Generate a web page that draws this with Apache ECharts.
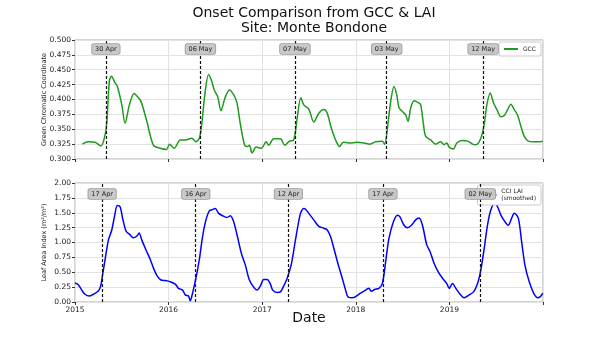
<!DOCTYPE html>
<html><head><meta charset="utf-8">
<script src="https://cdn.jsdelivr.net/npm/echarts@6/dist/echarts.min.js"></script>
<style>html,body{margin:0;padding:0;background:#fff}#c{width:602px;height:339px}</style>
</head><body><div id="c"></div>
<script>
// GCC series: [decimal year, GCC]
const gccData = [
[2015.078,0.325],[2015.142,0.329],[2015.214,0.328],[2015.278,0.322],[2015.318,0.338],[2015.339,0.360],
[2015.367,0.431],[2015.389,0.439],[2015.428,0.428],[2015.453,0.422],[2015.500,0.391],[2015.535,0.360],
[2015.581,0.391],[2015.632,0.410],[2015.671,0.404],[2015.707,0.396],[2015.768,0.363],[2015.838,0.323],
[2015.910,0.318],[2015.978,0.316],[2016.010,0.325],[2016.060,0.318],[2016.124,0.332],[2016.178,0.332],
[2016.249,0.335],[2016.292,0.329],[2016.328,0.335],[2016.349,0.352],[2016.392,0.414],[2016.427,0.442],
[2016.456,0.433],[2016.488,0.416],[2016.524,0.405],[2016.560,0.381],[2016.599,0.401],[2016.649,0.416],
[2016.695,0.408],[2016.731,0.394],[2016.767,0.358],[2016.813,0.323],[2016.838,0.321],[2016.863,0.323],
[2016.892,0.310],[2016.935,0.320],[2016.991,0.318],[2017.042,0.329],[2017.070,0.323],[2017.123,0.334],
[2017.195,0.334],[2017.241,0.323],[2017.291,0.330],[2017.337,0.332],[2017.374,0.369],[2017.413,0.403],
[2017.444,0.391],[2017.498,0.384],[2017.551,0.362],[2017.605,0.377],[2017.658,0.383],[2017.695,0.377],
[2017.738,0.352],[2017.784,0.332],[2017.827,0.321],[2017.866,0.328],[2017.926,0.327],[2018.016,0.328],
[2018.087,0.327],[2018.151,0.325],[2018.212,0.329],[2018.284,0.330],[2018.308,0.325],[2018.344,0.360],
[2018.373,0.397],[2018.408,0.422],[2018.437,0.408],[2018.462,0.386],[2018.498,0.380],[2018.533,0.374],
[2018.558,0.363],[2018.587,0.386],[2018.622,0.398],[2018.676,0.394],[2018.694,0.391],[2018.723,0.358],
[2018.747,0.338],[2018.801,0.332],[2018.854,0.325],[2018.908,0.329],[2018.943,0.324],[2018.972,0.327],
[2018.997,0.320],[2019.044,0.317],[2019.079,0.327],[2019.140,0.331],[2019.194,0.330],[2019.247,0.325],
[2019.283,0.324],[2019.336,0.335],[2019.372,0.358],[2019.400,0.391],[2019.436,0.411],[2019.472,0.394],
[2019.508,0.383],[2019.550,0.371],[2019.586,0.373],[2019.622,0.383],[2019.657,0.392],[2019.693,0.383],
[2019.728,0.374],[2019.764,0.355],[2019.800,0.338],[2019.843,0.330],[2019.900,0.329],[2019.950,0.329],
[2019.997,0.330]
];
// CCI LAI (smoothed): [decimal year, LAI]
const laiData = [
[2015.000,0.32],[2015.035,0.29],[2015.072,0.20],[2015.107,0.13],[2015.153,0.10],[2015.196,0.13],
[2015.249,0.185],[2015.275,0.27],[2015.292,0.43],[2015.321,0.71],[2015.357,1.04],[2015.393,1.21],
[2015.421,1.43],[2015.453,1.62],[2015.482,1.60],[2015.511,1.39],[2015.546,1.19],[2015.581,1.14],
[2015.624,1.08],[2015.661,1.11],[2015.685,1.16],[2015.714,1.04],[2015.760,0.87],[2015.803,0.72],
[2015.846,0.54],[2015.881,0.43],[2015.918,0.37],[2015.964,0.36],[2016.017,0.34],[2016.071,0.30],
[2016.106,0.23],[2016.149,0.20],[2016.178,0.12],[2016.213,0.10],[2016.231,0.02],[2016.256,0.15],
[2016.292,0.40],[2016.328,0.71],[2016.363,1.10],[2016.399,1.38],[2016.435,1.53],[2016.464,1.55],
[2016.499,1.57],[2016.534,1.49],[2016.577,1.45],[2016.624,1.42],[2016.660,1.45],[2016.695,1.35],
[2016.731,1.13],[2016.777,0.82],[2016.820,0.62],[2016.863,0.37],[2016.909,0.25],[2016.945,0.20],
[2016.981,0.27],[2017.016,0.38],[2017.053,0.38],[2017.088,0.30],[2017.112,0.20],[2017.160,0.16],
[2017.195,0.17],[2017.230,0.27],[2017.267,0.40],[2017.313,0.65],[2017.355,1.04],[2017.409,1.49],
[2017.444,1.57],[2017.463,1.56],[2017.498,1.49],[2017.551,1.38],[2017.605,1.27],[2017.658,1.24],
[2017.695,1.21],[2017.730,1.10],[2017.766,0.90],[2017.808,0.65],[2017.855,0.40],[2017.891,0.20],
[2017.915,0.09],[2017.963,0.07],[2017.998,0.09],[2018.051,0.15],[2018.105,0.20],[2018.140,0.23],
[2018.166,0.18],[2018.201,0.21],[2018.247,0.23],[2018.284,0.31],[2018.319,0.68],[2018.354,1.07],
[2018.402,1.35],[2018.444,1.46],[2018.472,1.43],[2018.515,1.29],[2018.551,1.25],[2018.594,1.29],
[2018.640,1.38],[2018.676,1.41],[2018.712,1.29],[2018.758,0.96],[2018.793,0.85],[2018.836,0.65],
[2018.879,0.51],[2018.926,0.40],[2018.972,0.31],[2018.997,0.23],[2019.033,0.31],[2019.069,0.23],
[2019.115,0.13],[2019.158,0.07],[2019.211,0.12],[2019.258,0.17],[2019.301,0.31],[2019.336,0.54],
[2019.372,0.90],[2019.407,1.29],[2019.443,1.55],[2019.486,1.66],[2019.515,1.60],[2019.550,1.46],
[2019.593,1.35],[2019.629,1.29],[2019.665,1.41],[2019.693,1.49],[2019.736,1.41],[2019.772,1.01],
[2019.807,0.62],[2019.853,0.34],[2019.900,0.15],[2019.943,0.07],[2019.971,0.09],[2019.997,0.15]
];
const gccOnsets = ['2015-04-30','2016-05-06','2017-05-07','2018-05-03','2019-05-12'];
const laiOnsets = ['2015-04-17','2016-04-16','2017-04-12','2018-04-17','2019-05-02'];
const yearTicks = [2015, 2016, 2017, 2018, 2019];

const MON = ['Jan','Feb','Mar','Apr','May','Jun','Jul','Aug','Sep','Oct','Nov','Dec'];
function decYear(s){const d=new Date(s+'T00:00:00Z');const y=d.getUTCFullYear();
  return y+(d-Date.UTC(y,0,1))/(Date.UTC(y+1,0,1)-Date.UTC(y,0,1));}
function lbl(s){const d=new Date(s+'T00:00:00Z');return String(d.getUTCDate()).padStart(2,'0')+' '+MON[d.getUTCMonth()];}

const FONT = 'DejaVu Sans';
function onsetMarks(list, dist){
  return {
    silent:true, symbol:['none','none'],
    lineStyle:{type:[3,2],color:'#111',width:1.2},
    label:{show:true, position:'end', distance:dist, formatter:p=>p.name, fontFamily:FONT, fontSize:6.5, color:'#222',
      backgroundColor:'#c8c8c8', borderColor:'#9a9a9a', borderWidth:0.8, borderRadius:2, padding:[2,3,1,3]},
    data: list.map(s=>({name:lbl(s), xAxis:decYear(s)}))
  };
}
function xAx(gi, showLabels){
  return {type:'value', gridIndex:gi, min:2015, max:2020, interval:1,
    axisLine:{show:false}, axisTick:{show:true, length:3, lineStyle:{color:'#333'}},
    axisLabel:{show:showLabels, fontFamily:FONT, fontSize:7.5, color:'#222', margin:4,
      formatter:v=>yearTicks.includes(v)?String(v):''},
    splitLine:{show:true, lineStyle:{color:'#e2e2e2', width:1}}};
}
function yAx(gi,min,max,intv,dec,name){
  return {type:'value', gridIndex:gi, min:min, max:max, interval:intv,
    name:name, nameLocation:'middle', nameGap:27, nameMoveOverlap:false,
    nameTextStyle:{fontFamily:FONT, fontSize:6.5, color:'#222'},
    axisLine:{show:false}, axisTick:{show:true, length:3, lineStyle:{color:'#333'}},
    axisLabel:{fontFamily:FONT, fontSize:7.5, color:'#222', margin:4, formatter:v=>v.toFixed(dec)},
    splitLine:{show:true, lineStyle:{color:'#e2e2e2', width:1}}};
}
const chart = echarts.init(document.getElementById('c'), null, {renderer:'canvas'});
chart.setOption({
  animation:false,
  backgroundColor:'#fff',
  title:{text:'Onset Comparison from GCC & LAI\nSite: Monte Bondone', left:309, textAlign:'center', top:1,
    textStyle:{fontFamily:FONT, fontSize:14, fontWeight:'normal', color:'#111', lineHeight:15}},
  grid:[
    {left:75, right:59, top:40, height:119, show:true, borderColor:'#a8a8a8', borderWidth:1},
    {left:75, right:59, top:183, height:119, show:true, borderColor:'#a8a8a8', borderWidth:1}
  ],
  xAxis:[xAx(0,false), Object.assign(xAx(1,true), {name:'Date', nameLocation:'middle', nameGap:16, nameMoveOverlap:false,
    nameTextStyle:{fontFamily:FONT, fontSize:14, color:'#111', verticalAlign:'middle'}})],
  yAxis:[yAx(0,0.3,0.5,0.025,3,'Green Chromatic Coordinate'), yAx(1,0,2,0.25,2,'Leaf Area Index (m²/m²)')],
  legend:[
    {data:['GCC'], right:61, top:42, orient:'vertical', icon:'rect', itemWidth:14, itemHeight:2, itemGap:2,
      textStyle:{fontFamily:FONT, fontSize:6, color:'#222'}, backgroundColor:'#fff', borderColor:'#ccc', borderWidth:1, borderRadius:2, padding:[4,5,4,5]},
    {data:['CCI LAI\n(smoothed)'], right:61, top:185, orient:'vertical', icon:'rect', itemWidth:14, itemHeight:2,
      textStyle:{fontFamily:FONT, fontSize:6, color:'#222', lineHeight:7}, backgroundColor:'#fff', borderColor:'#ccc', borderWidth:1, borderRadius:2, padding:[3,5,3,5]}
  ],
  series:[
    {name:'GCC', type:'line', xAxisIndex:0, yAxisIndex:0, data:gccData, showSymbol:false, symbol:'none', smooth:0.3,
      lineStyle:{color:'#1f9a1f', width:1.5}, itemStyle:{color:'#1f9a1f'}, markLine:onsetMarks(gccOnsets,-14), z:3},
    {name:'CCI LAI\n(smoothed)', type:'line', xAxisIndex:1, yAxisIndex:1, data:laiData, showSymbol:false, symbol:'none', smooth:0.3,
      lineStyle:{color:'#0000ff', width:1.5}, itemStyle:{color:'#0000ff'}, markLine:onsetMarks(laiOnsets,-16), z:3}
  ]
});
</script></body></html>
